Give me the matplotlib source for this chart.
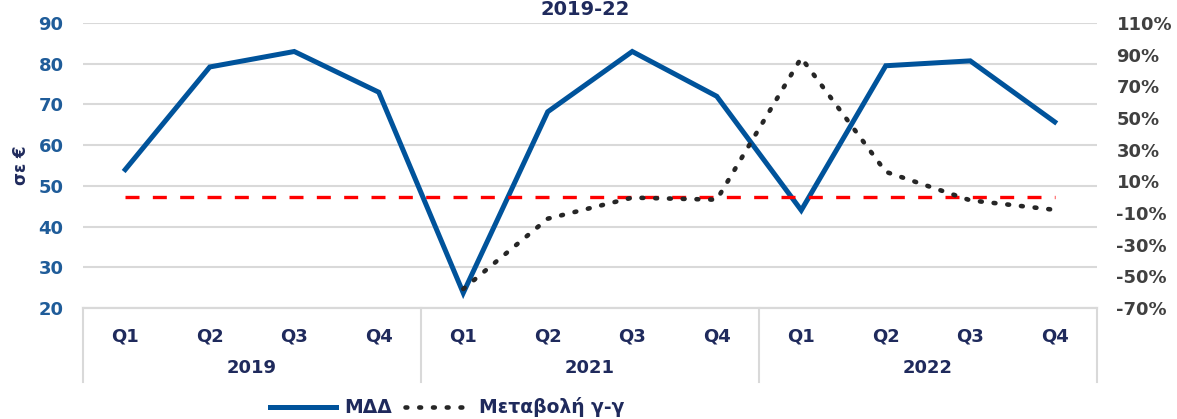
#
# ΜΔΔ quarterly values with y-y change, 2019-22
#

import numpy             as np
import matplotlib.pyplot as plt
from matplotlib.lines import Line2D

# data
years    = ["2019", "2021", "2022"]
quarters = ["Q1", "Q2", "Q3", "Q4"]
mdd      = [54, 79.2, 83, 73, 23.7, 68.2, 83, 72, 44, 79.5, 80.7, 65.7]
yoy      = [np.nan, np.nan, np.nan, np.nan, -58, -13.6, -0.3, -1.6, 88, 16, -2, -8]
baseline = [0] * 12

navy  = "#1F2A5C"
blue  = "#00539B"
tblue = "#1F5C99"
grid  = "#D9D9D9"
dots  = (0, (0.4, 2.6))

plt.rcParams['font.family'] = ['DejaVu Sans']

fig = plt.figure(figsize=(11.77, 4.19), dpi=100)
ax = fig.add_axes([83/1177, 1 - 308/419, (1097-83)/1177, (308-23)/419])
ax2 = ax.twinx()

x = np.arange(len(mdd))

# left axis
ax.set_xlim(-0.5, 11.5)
ax.set_ylim(20, 90)
ax.set_yticks(range(20, 91, 10))
ax.grid(axis="y", color=grid, linewidth=1.5)
ax.set_axisbelow(True)
ax.tick_params(axis="y", length=0, pad=14, labelsize=13, labelcolor=tblue)
for lbl in ax.get_yticklabels():
    lbl.set_fontweight("bold")
ax.set_ylabel("σε €", fontsize=12, fontweight="bold", color=navy, labelpad=6)

ax.plot(x, mdd, color=blue, linewidth=3.6, solid_joinstyle="miter", label="ΜΔΔ")

# right axis
ax2.set_ylim(-70, 110)
ax2.set_yticks(range(-70, 111, 20))
ax2.set_yticklabels([f"{v}%" for v in range(-70, 111, 20)])
ax2.tick_params(axis="y", length=0, pad=14, labelsize=13, labelcolor="#404040")
for lbl in ax2.get_yticklabels():
    lbl.set_fontweight("bold")

ax2.plot(x, baseline, color="#FF0000", linewidth=2.4, linestyle=(0, (4.2, 4.0)))
ax2.plot(x, yoy, color="#262626", linewidth=3.3, linestyle=dots,
         dash_capstyle="round", label="Μεταβολή γ-γ")

for a in (ax, ax2):
    for s in ("top", "left", "right"):
        a.spines[s].set_visible(False)
    a.spines["bottom"].set_color(grid)
    a.spines["bottom"].set_linewidth(1.5)

# category axis: quarters and year groups
ax.set_xticks(x)
ax.set_xticklabels(quarters * len(years), fontsize=13, fontweight="bold", color=navy)
ax.tick_params(axis="x", length=0, pad=14)

trans = ax.get_xaxis_transform()
for i, yr in enumerate(years):
    ax.text(4*i + 1.5, -0.21, yr, transform=trans, ha="center", va="center",
            fontsize=13, fontweight="bold", color=navy)
for b in range(len(years) + 1):
    ax.add_line(Line2D([4*b - 0.5, 4*b - 0.5], [0, -0.26], transform=trans,
                       color=grid, linewidth=1.5, clip_on=False))

# title (sits at the very top edge)
fig.text(0.497, 0.999, "2019-22", ha="center", va="top",
         fontsize=14, fontweight="bold", color=navy)

# legend
h1 = Line2D([], [], color=blue, linewidth=3.6)
h2 = Line2D([], [], color="#262626", linewidth=3.3, linestyle=dots,
            dash_capstyle="round")
leg = fig.legend([h1, h2], ["ΜΔΔ", "Μεταβολή γ-γ"], loc="center",
                 bbox_to_anchor=(0.38, 0.028), ncol=2, frameon=False,
                 handlelength=3.5, columnspacing=0.7, handletextpad=0.45,
                 prop={"size": 13.5, "weight": "bold"})
for t in leg.get_texts():
    t.set_color(navy)

fig.savefig("out.png", dpi=100)
